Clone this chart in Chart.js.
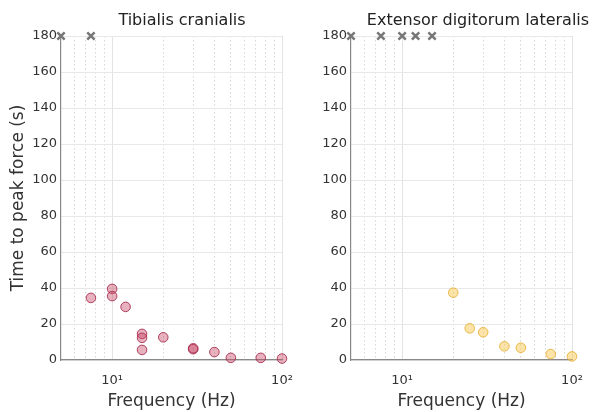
<!DOCTYPE html>
<html>
<head>
<meta charset="utf-8">
<script src="https://cdn.jsdelivr.net/npm/chart.js@4.4.1/dist/chart.umd.min.js"></script>
<style>
  body { margin: 0; background: #fff; }
  .panel { position: absolute; top: 0; width: 296px; height: 412px; }
</style>
</head>
<body>
<div class="panel" style="left:0"><canvas id="tibChart" width="296" height="412"></canvas></div>
<div class="panel" style="left:296px"><canvas id="edlChart" width="296" height="412"></canvas></div>
<script>
// Tibialis cranialis: frequency (Hz) / time to peak force (s)
var tibFreq = [7.5, 10, 10, 12, 15, 15, 15, 20, 30, 30, 40, 50, 75, 100];
var tibTime = [34.5, 39.5, 35.5, 29.5, 14.5, 12.3, 5.6, 12.6, 6.0, 6.5, 4.4, 1.2, 1.2, 0.8];
// frequencies that never reached peak (plotted at 180)
var tibNoPeak = [5, 7.5];

// Extensor digitorum lateralis
var edlFreq = [20, 25, 30, 40, 50, 75, 100];
var edlTime = [37.4, 17.6, 15.4, 7.6, 6.8, 3.3, 2.0];
var edlNoPeak = [5, 7.5, 10, 12, 15];

var noPeakValue = 180;
var xTicks = [6, 7, 8, 9, 10, 20, 30, 40, 50, 60, 70, 80, 90, 100];
var xMajor = [10, 100];
var xLabels = { 10: '10\u00b9', 100: '10\u00b2' };

Chart.defaults.font.family = 'DejaVu Sans';
Chart.defaults.color = '#333';

function pts(xs, ys) {
    var out = [];
    for (let i = 0; i < xs.length; i++) {
        out.push({ x: xs[i], y: ys[i] });
    }
    return out;
}
function flat(xs, v) {
    return xs.map(function (x) { return { x: x, y: v }; });
}

// panel title, drawn a bit right of the plot centre like the reference
var panelTitle = {
    id: 'panelTitle',
    afterDraw: function (chart, args, opts) {
        var c = chart.ctx;
        c.save();
        c.font = '16px DejaVu Sans';
        c.fillStyle = '#222';
        c.textAlign = 'center';
        c.textBaseline = 'middle';
        c.fillText(opts.text, opts.x, 21);
        c.restore();
    }
};

function makeChart(id, freq, time, noPeak, fill, edge, yTitle, axisWidth, titleX) {
    return new Chart(document.getElementById(id), {
        type: 'scatter',
        data: {
            datasets: [{
                data: pts(freq, time),
                backgroundColor: fill,
                borderColor: edge,
                borderWidth: 1,
                pointRadius: 4.8,
                pointHoverRadius: 4.8,
                clip: false
            }, {
                data: flat(noPeak, noPeakValue),
                pointStyle: 'crossRot',
                borderColor: '#777',
                borderWidth: 2.5,
                pointRadius: 5.2,
                clip: false
            }]
        },
        options: {
            responsive: false,
            animation: false,
            layout: { padding: { top: 36, right: 296 - axisWidth - 221, left: 0, bottom: 0 } },
            plugins: {
                legend: { display: false },
                tooltip: { enabled: false },
                panelTitle: { text: yTitle.title, x: titleX }
            },
            scales: {
                x: {
                    type: 'logarithmic',
                    min: 5,
                    max: 100,
                    afterBuildTicks: function (s) {
                        s.ticks = xTicks.map(function (v) { return { value: v, major: xMajor.indexOf(v) >= 0 }; });
                    },
                    afterFit: function (s) {
                        s.height = 52;
                        s.paddingLeft = 0;
                        s.paddingRight = 0;
                    },
                    ticks: {
                        autoSkip: false,
                        maxRotation: 0,
                        padding: 13,
                        font: { size: 13 },
                        callback: function (v) { return xLabels[v] || ''; }
                    },
                    grid: {
                        drawTicks: false,
                        color: function (ctx) {
                            return ctx.tick && xMajor.indexOf(ctx.tick.value) >= 0 ? '#e3e3e3' : '#d6d6d6';
                        },
                        lineWidth: 1
                    },
                    border: {
                        color: '#888',
                        width: 1.2,
                        dash: function (ctx) {
                            return ctx.tick && xMajor.indexOf(ctx.tick.value) < 0 ? [1.5, 2.5] : [];
                        }
                    },
                    title: {
                        display: true,
                        text: 'Frequency (Hz)',
                        font: { size: 17 },
                        color: '#333',
                        padding: { top: 0, bottom: 0 }
                    }
                },
                y: {
                    min: 0,
                    max: 180,
                    afterFit: function (s) {
                        s.width = axisWidth;
                        s.paddingTop = 0;
                        s.paddingBottom = 0;
                    },
                    ticks: { stepSize: 20, padding: 4, font: { size: 13 } },
                    grid: { drawTicks: false, color: '#e8e8e8', lineWidth: 1 },
                    border: { color: '#888', width: 1.2 },
                    title: {
                        display: yTitle.show,
                        text: 'Time to peak force (s)',
                        font: { size: 17 },
                        color: '#333',
                        padding: { top: 8, bottom: 0 }
                    }
                }
            }
        },
        plugins: [panelTitle]
    });
}

makeChart('tibChart', tibFreq, tibTime, tibNoPeak,
    'rgba(200,70,100,0.42)', 'rgba(165,40,75,0.85)',
    { show: true, title: 'Tibialis cranialis' }, 61, 182);
makeChart('edlChart', edlFreq, edlTime, edlNoPeak,
    'rgba(250,200,80,0.5)', 'rgba(232,178,60,0.9)',
    { show: false, title: 'Extensor digitorum lateralis' }, 55, 182);
</script>
</body>
</html>
